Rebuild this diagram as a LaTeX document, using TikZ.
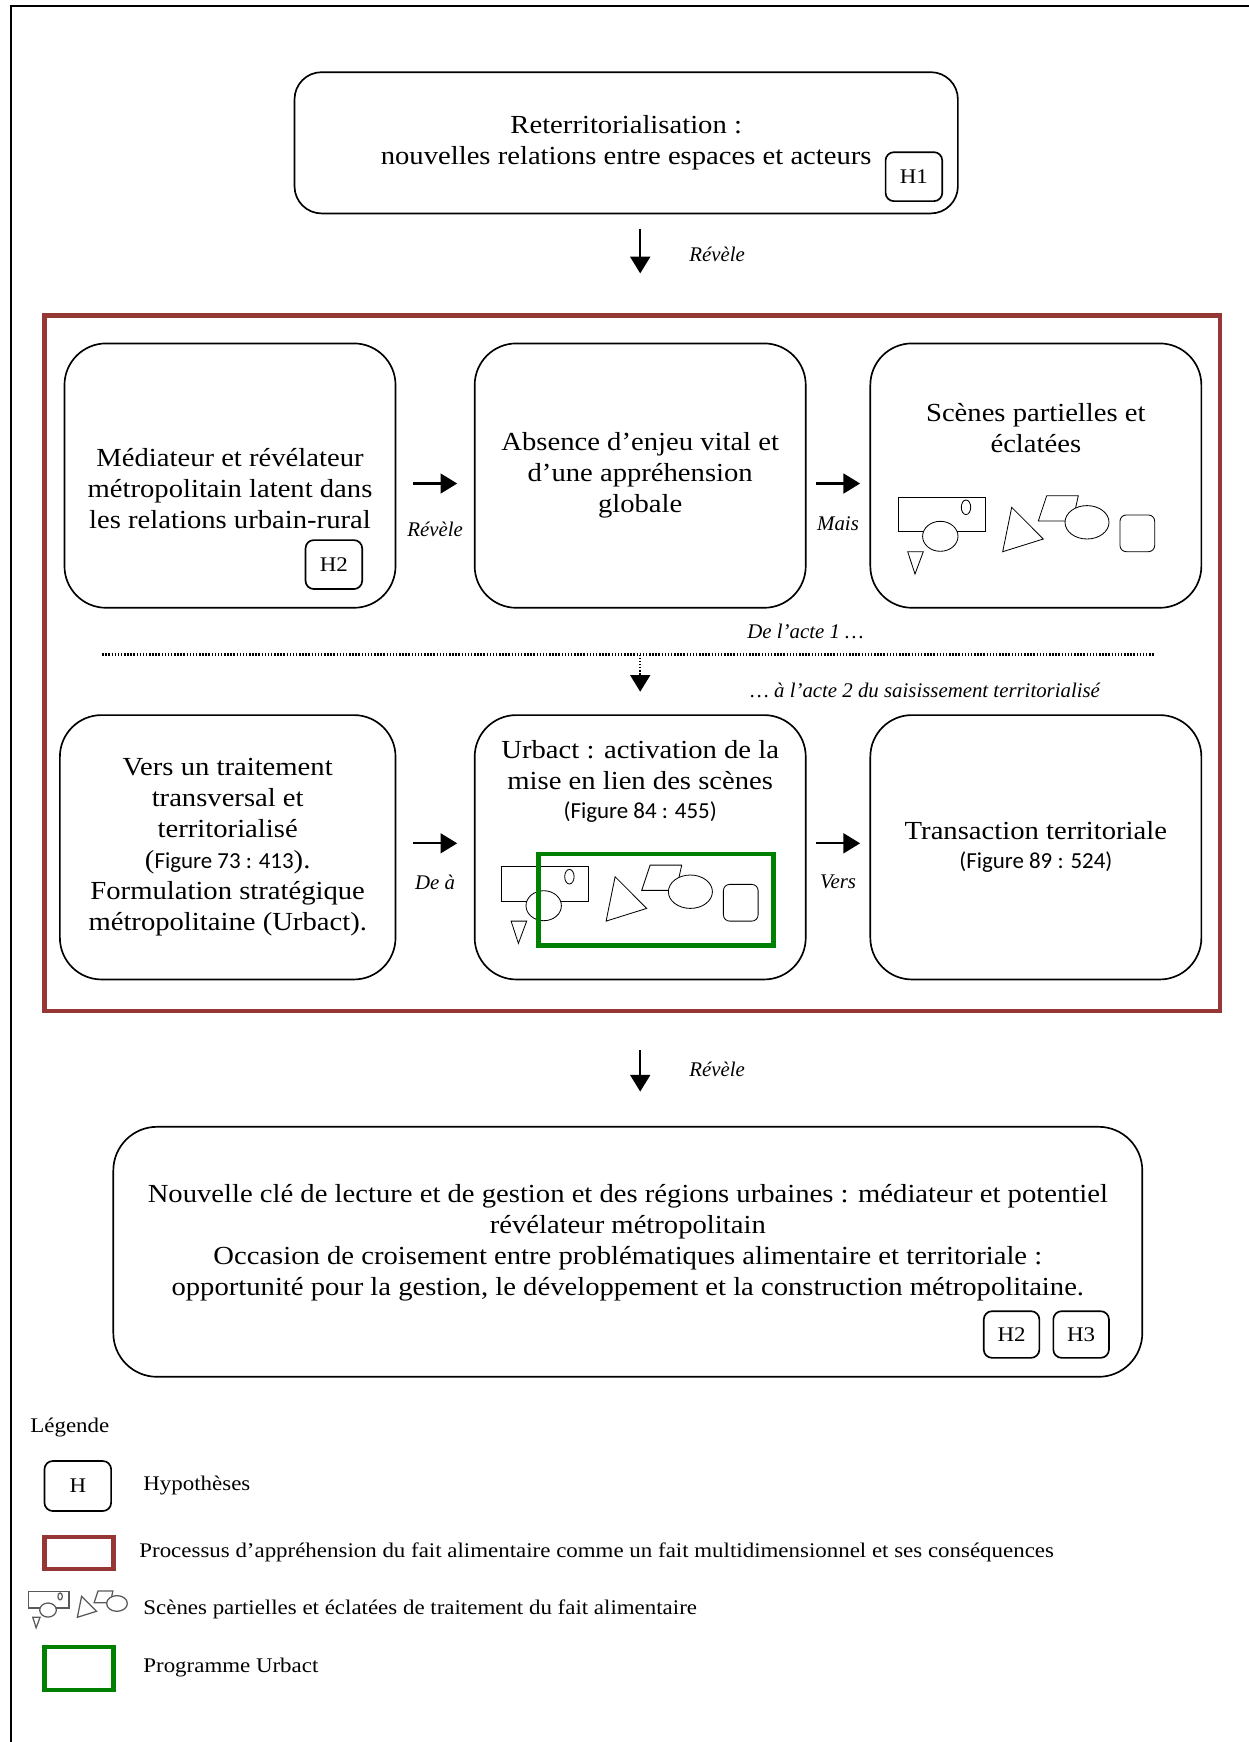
\documentclass[tikz,border=0pt]{standalone}
\usepackage{fontspec}
\setmainfont{Liberation Serif}[FakeStretch=1.1]
\newfontfamily\italfont{Liberation Serif}
\newfontfamily\figfont{Carlito}
\usepackage{tikz}
\usetikzlibrary{positioning,arrows.meta}

\definecolor{rougeproc}{RGB}{149,55,53}
\definecolor{vertprog}{RGB}{0,128,0}

\newcommand{\figref}[1]{{\figfont\fontsize{11}{13}\selectfont #1}}

\begin{document}
\begin{tikzpicture}[
		x=0.48pt, y=-0.48pt,
		>={Triangle[width=9.5pt,length=8pt]},
		boite/.style={
			draw,
			line width=0.8pt,
			rounded corners=20pt,
			minimum width=158.9pt,
			minimum height=126.9pt,
			inner sep=2pt,
			align=center,
			font=\fontsize{12.5}{14.9}\selectfont
		},
		texte/.style={
			align=center,
			inner sep=0pt,
			font=\fontsize{12.5}{14.9}\selectfont
		},
		hyp/.style={
			draw,
			line width=0.8pt,
			rounded corners=4pt,
			minimum width=27.2pt,
			minimum height=23.5pt,
			inner sep=0pt,
			font=\fontsize{10}{12}\selectfont
		},
		lien/.style={inner sep=0pt, font=\italfont\fontsize{10}{12}\selectfont\itshape},
		legende/.style={anchor=west, inner sep=0pt, font=\fontsize{10}{12}\selectfont},
		fleche/.style={->, line width=1.1pt},
		pointille/.style={line width=1.1pt, dash pattern=on 0.7pt off 0.8pt},
		pics/scenes/.style={
			code={
				\draw (0,0) rectangle (86.7,34.4);
				\draw (67.7,10) ellipse [x radius=4.7, y radius=7.3];
				\draw[fill=white] (42,39) ellipse [x radius=17.7, y radius=15];
				\draw (9.4,54.4) -- (25,54.4) -- (16.7,76.7) -- cycle;
				\draw (113.4,10) -- (104.4,54.4) -- (145,41.7) -- cycle;
				\draw (148.4,-1.6) -- (180,-1.6) -- (174.4,23.7) -- (140,23.7) -- cycle;
				\draw[fill=white] (188.7,25) ellipse [x radius=22, y radius=16.7];
			}
		},
		pics/scenescarre/.style={
			code={
				\pic {scenes};
				\draw[rounded corners=3pt] (221.7,17.7) rectangle (256.4,54.4);
			}
		}
		]
		
		\useasboundingbox (0,0) rectangle (1249,1742);
		\draw[line width=1pt] (11,1742) -- (11,5.6) -- (1249,5.6);
		
		%--------------------------------------------------
		% Nodes
		%--------------------------------------------------
		
		\node[boite, rounded corners=13pt, minimum width=318.4pt, minimum height=67.8pt]
		(reterr) at (626.2,142.8)
		{Reterritorialisation :\\ nouvelles relations entre espaces et acteurs};
		
		\node[hyp, anchor=south east] (h1) at ([xshift=-7.5pt,yshift=5.9pt]reterr.south east) {H1};
		
		\node[draw=rougeproc, line width=2.1pt, minimum width=564.3pt, minimum height=333.9pt]
		(processus) at (632.2,663.4) {};
		
		% acte 1
		\node[boite] (mediateur) at (230,475.6) {};
		
		\node[texte] (t-mediateur) at ([yshift=-6.4pt]mediateur.center)
		{Médiateur et révélateur\\ métropolitain latent dans\\ les relations urbain-rural};
		
		\node[hyp, anchor=south east] (h2a) at ([xshift=-16pt,yshift=9pt]mediateur.south east) {H2};
		
		\node[boite] (absence) [right=37.2pt of mediateur]
		{Absence d’enjeu vital et\\ d’une appréhension\\ globale};
		
		\node[boite] (scenes) [right=30.2pt of absence] {};
		
		\node[texte] (t-scenes) at ([yshift=-41.1pt]scenes.north)
		{Scènes partielles et\\ éclatées};
		
		\pic at (898.3,497.3) {scenescarre};
		
		% acte 2
		\node[boite] (urbact) [below=50.7pt of absence] {};
		
		\node[texte] (t-urbact) at ([yshift=-32.3pt]urbact.north)
		{Urbact : activation de la\\ mise en lien des scènes\\[-1pt] \figref{(Figure 84 : 455)}};
		
		\pic at (501.7,866.7) {scenescarre};
		
		\draw[vertprog, line width=2.2pt] (538.3,854) rectangle (773.3,945.7);
		
		\node[boite, minimum width=161.1pt] (traitement) [left=37.2pt of urbact]
		{Vers un traitement\\ transversal et\\ territorialisé\\ (\figref{Figure 73 : 413}).\\ Formulation stratégique\\ métropolitaine (Urbact).};
		
		\node[boite] (transaction) [right=30.2pt of urbact]
		{Transaction territoriale\\[-1pt] \figref{(Figure 89 : 524)}};
		
		% conclusion
		\node[boite, rounded corners=21pt, minimum width=493.9pt, minimum height=120pt]
		(cle) at (627.8,1251.8) {};
		
		\node[texte] (t-cle) at ([yshift=4.2pt]cle.center)
		{Nouvelle clé de lecture et de gestion et des régions urbaines : médiateur et potentiel\\
			révélateur métropolitain\\
			Occasion de croisement entre problématiques alimentaire et territoriale :\\
			opportunité pour la gestion, le développement et la construction métropolitaine.};
		
		\node[hyp, minimum width=26.7pt, minimum height=22.4pt, anchor=south east]
		(h3) at ([xshift=-16pt,yshift=9.1pt]cle.south east) {H3};
		
		\node[hyp, minimum width=26.7pt, minimum height=22.4pt] (h2b) [left=5.9pt of h3] {H2};
		
		%--------------------------------------------------
		% Connections
		%--------------------------------------------------
		
		\draw[fleche, shorten <=7pt, shorten >=19.2pt] (reterr.south -| absence) -- (processus.north -| absence)
		node[lien, pos=0.4, right=23pt] (l-revele1) {Révèle};
		
		\draw[fleche, shorten <=8pt, shorten >=8pt] ([yshift=-3.8pt]mediateur.east) -- ([yshift=-3.8pt]absence.west)
		node[lien, midway, yshift=-21.9pt] (l-revele2) {Révèle};
		
		\draw[fleche, shorten <=4.5pt, shorten >=4.5pt] ([yshift=-3.8pt]absence.east) -- ([yshift=-3.8pt]scenes.west)
		node[lien, midway, yshift=-19.2pt] (l-mais) {Mais};
		
		\coordinate (pt-g) at (102.2,654.5);
		\coordinate (pt-d) at (1153.5,654.5);
		
		\draw[pointille] (pt-g) -- (pt-d)
		node[lien, pos=0.669, yshift=11.2pt] (acte1) {De l’acte 1 …};
		
		\draw[pointille, ->, shorten >=10.8pt] (pt-g -| urbact) -- (urbact.north);
		
		\node[lien, anchor=west] (acte2) at (750,690) {… à l’acte 2 du saisissement territorialisé};
		
		\draw[fleche, shorten <=8pt, shorten >=8pt] ([yshift=1.9pt]traitement.east) -- ([yshift=1.9pt]urbact.west)
		node[lien, midway, yshift=-18.6pt] (l-dea) {De à};
		
		\draw[fleche, shorten <=4.5pt, shorten >=4.5pt] ([yshift=1.9pt]urbact.east) -- ([yshift=1.9pt]transaction.west)
		node[lien, midway, yshift=-18.6pt] (l-vers) {Vers};
		
		\draw[fleche, shorten <=17.6pt, shorten >=16.5pt] (processus.south -| urbact) -- (cle.north -| urbact)
		node[lien, midway, right=23pt] (l-revele3) {Révèle};
		
		%--------------------------------------------------
		% Legende
		%--------------------------------------------------
		
		\node[legende] (legende) at (30,1427) {Légende};
		
		\node[hyp, minimum width=32pt, minimum height=24pt] (hleg) at (77.8,1486) {H};
		\node[legende] (t-hyp) at (143,1485) {Hypothèses};
		
		\draw[rougeproc, line width=2.2pt] (44.4,1536.8) rectangle (113.3,1569);
		\node[legende] (t-proc) at (139,1552)
		{Processus d’appréhension du fait alimentaire comme un fait multidimensionnel et ses conséquences};
		
		\pic[color=black!65, line width=0.6pt, scale=0.47] at (28.3,1591.7) {scenes};
		\node[legende] (t-scenes-leg) at (143,1609) {Scènes partielles et éclatées de traitement du fait alimentaire};
		
		\draw[vertprog, line width=2.2pt] (44.4,1647) rectangle (113.3,1690);
		\node[legende] (t-urbact-leg) at (143,1667) {Programme Urbact};
		
	\end{tikzpicture}
\end{document}
